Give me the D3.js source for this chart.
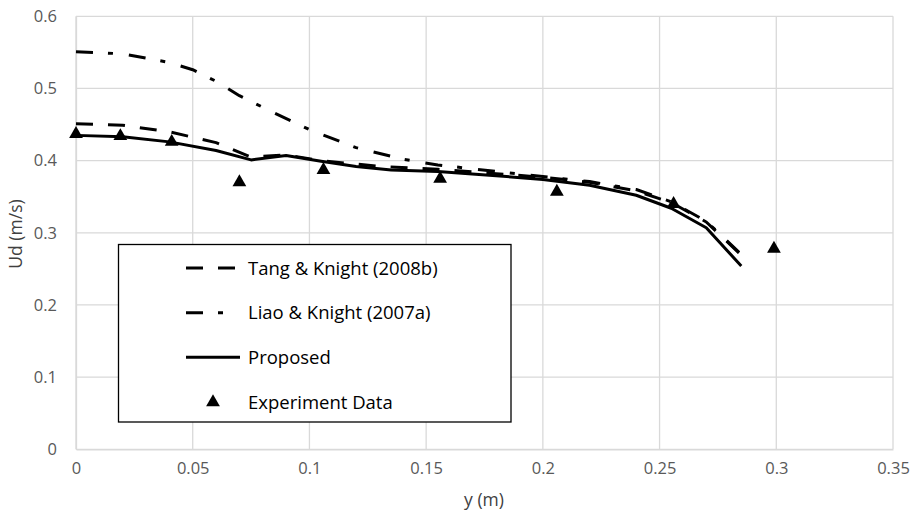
<!DOCTYPE html>
<html><head><meta charset="utf-8">
<script src="https://cdn.jsdelivr.net/npm/d3@7"></script>
<style>body{margin:0;background:#fff}svg{display:block}</style>
</head><body>
<script>
const xTicks=[0,0.05,0.1,0.15,0.2,0.25,0.3,0.35];
const yTicks=[0,0.1,0.2,0.3,0.4,0.5,0.6];
const tangX=[0,0.02,0.04,0.06,0.075,0.09,0.105,0.13,0.155,0.18,0.2,0.22,0.24,0.255,0.27,0.285];
const tangY=[0.451,0.449,0.44,0.425,0.405,0.408,0.4,0.392,0.388,0.382,0.377,0.37,0.358,0.342,0.315,0.269];
const liaoX=[0,0.02,0.04,0.05,0.06,0.07,0.085,0.1,0.12,0.14,0.155,0.18,0.2,0.22,0.24,0.255,0.27,0.285];
const liaoY=[0.551,0.548,0.536,0.526,0.51,0.49,0.466,0.443,0.418,0.402,0.394,0.385,0.378,0.371,0.36,0.343,0.316,0.27];
const propX=[0,0.02,0.04,0.06,0.075,0.09,0.105,0.12,0.135,0.155,0.18,0.2,0.22,0.24,0.255,0.27,0.285];
const propY=[0.435,0.433,0.426,0.414,0.401,0.407,0.399,0.392,0.387,0.385,0.379,0.374,0.366,0.352,0.334,0.307,0.254];
const expX=[0,0.019,0.041,0.07,0.106,0.156,0.206,0.256,0.299];
const expY=[0.437,0.434,0.426,0.37,0.387,0.375,0.357,0.34,0.278];
const legendNames=["Tang & Knight (2008b)","Liao & Knight (2007a)","Proposed","Experiment Data"];

const W=916,H=513;
const svg=d3.select("body").append("svg").attr("width",W).attr("height",H);
const x=d3.scaleLinear().domain([0,0.35]).range([76,893]);
const y=d3.scaleLinear().domain([0,0.6]).range([449.3,16.3]);
const font="'Open Sans', sans-serif";
// grid
svg.append("g").selectAll("line").data(xTicks).join("line")
 .attr("x1",d=>x(d)).attr("x2",d=>x(d)).attr("y1",y(0)).attr("y2",y(0.6))
 .attr("stroke","#d9d9d9").attr("stroke-width",1.3);
svg.append("g").selectAll("line").data(yTicks).join("line")
 .attr("x1",x(0)).attr("x2",x(0.35)).attr("y1",d=>y(d)).attr("y2",d=>y(d))
 .attr("stroke","#d9d9d9").attr("stroke-width",1.3);
// axes labels
const xa=svg.append("g").attr("transform",`translate(0,${y(0)})`).call(d3.axisBottom(x).tickValues(xTicks).tickFormat(d=>String(d)).tickSize(0).tickPadding(13));
xa.select(".domain").attr("stroke","#d9d9d9").attr("stroke-width",1.3);
xa.selectAll("text").attr("font-family",font).attr("font-size",16.5).attr("fill","#595959");
const ya=svg.append("g").attr("transform",`translate(${x(0)},0)`).call(d3.axisLeft(y).tickValues(yTicks).tickFormat(d=>String(d)).tickSize(0).tickPadding(19));
ya.select(".domain").attr("stroke","#d9d9d9").attr("stroke-width",1.3);
ya.selectAll("text").attr("font-family",font).attr("font-size",16.5).attr("fill","#595959");
svg.append("text").attr("x",484).attr("y",506).attr("text-anchor","middle").attr("font-family",font).attr("font-size",17.5).attr("fill","#404040").text("y (m)");
svg.append("text").attr("transform","translate(22,234) rotate(-90)").attr("text-anchor","middle").attr("font-family",font).attr("font-size",17.5).attr("fill","#404040").text("Ud (m/s)");

const line=d3.line().x(d=>x(d[0])).y(d=>y(d[1])).curve(d3.curveLinear);
const styles=[{dash:"17,15"},{dash:"17,15,5,16"},{dash:null}];
const series=[d3.zip(tangX,tangY),d3.zip(liaoX,liaoY),d3.zip(propX,propY)];
series.forEach((s,i)=>{
  svg.append("path").datum(s).attr("d",line).attr("fill","none").attr("stroke","#000")
   .attr("stroke-width",3).attr("stroke-linejoin","round")
   .attr("stroke-dasharray",styles[i].dash);
});
const tri=d3.symbol().type(d3.symbolTriangle).size(82);
svg.append("g").selectAll("path").data(d3.zip(expX,expY)).join("path")
 .attr("d",tri).attr("transform",d=>`translate(${x(d[0])},${y(d[1])})`).attr("fill","#000");

// legend
const lg=svg.append("g");
lg.append("rect").attr("x",118.5).attr("y",244.5).attr("width",392.5).attr("height",177.5).attr("fill","#fff").attr("stroke","#000").attr("stroke-width",1.3);
const rows=[268,312.7,357.3,402.3];
legendNames.forEach((n,i)=>{
  if(i<3){
    lg.append("line").attr("x1",186).attr("x2",i==2?240:238).attr("y1",rows[i]).attr("y2",rows[i]).attr("stroke","#000").attr("stroke-width",3).attr("stroke-dasharray",styles[i].dash);
  } else {
    lg.append("path").attr("d",tri).attr("transform",`translate(213,${rows[i]})`).attr("fill","#000");
  }
  lg.append("text").attr("x",248).attr("y",rows[i]).attr("dy","0.36em").attr("font-family",font).attr("font-size",18.5).attr("fill","#000").text(n);
});
</script>
</body></html>
